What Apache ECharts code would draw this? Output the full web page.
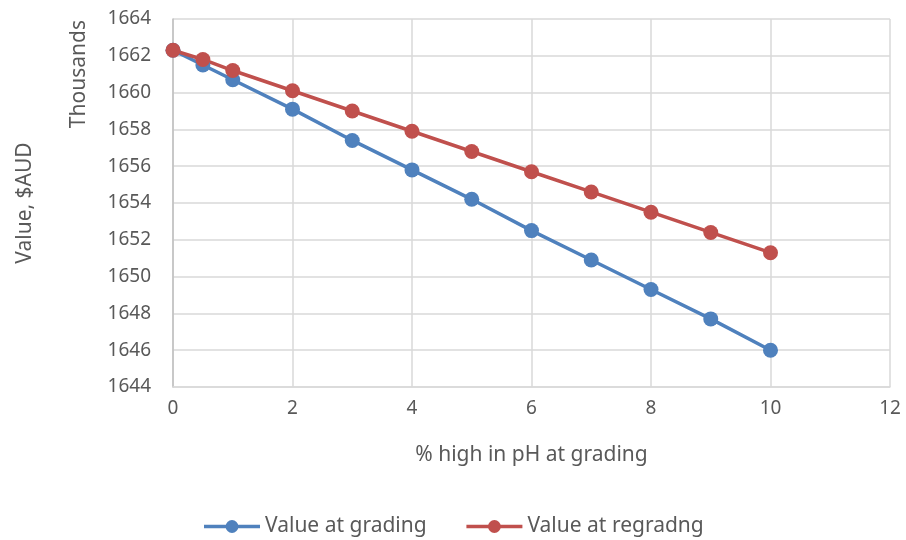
<!DOCTYPE html>
<html><head><meta charset="utf-8">
<script src="https://cdn.jsdelivr.net/npm/echarts@6/dist/echarts.min.js"></script>
<style>html,body{margin:0;padding:0;background:#fff}#c{width:906px;height:540px}</style>
</head><body><div id="c"></div>
<script>
const xValues = [0, 0.5, 1, 2, 3, 4, 5, 6, 7, 8, 9, 10];
const gradingValues = [1662.3, 1661.5, 1660.7, 1659.1, 1657.4, 1655.8, 1654.2, 1652.5, 1650.9, 1649.3, 1647.7, 1646.0];
const regradingValues = [1662.3, 1661.8, 1661.2, 1660.1, 1659.0, 1657.9, 1656.8, 1655.7, 1654.6, 1653.5, 1652.4, 1651.3];
const seriesNames = ['Value at grading', 'Value at regradng'];
const FONT = '"Noto Sans", sans-serif';
const chart = echarts.init(document.getElementById('c'));
chart.setOption({
  animation: false,
  textStyle: {fontFamily: FONT},
  grid: {left: 173, right: 16, top: 19, bottom: 153},
  xAxis: {
    type: 'value', min: 0, max: 12, interval: 2,
    name: '% high in pH at grading', nameLocation: 'middle', nameGap: 58,
    nameTextStyle: {fontSize: 21, color: '#595959', fontFamily: FONT},
    axisLine: {show: true, lineStyle: {color: '#d9d9d9', width: 1.5}},
    axisTick: {show: false},
    axisLabel: {fontSize: 19, color: '#595959', margin: 12},
    splitLine: {show: true, lineStyle: {color: '#d9d9d9', width: 1.5}}
  },
  yAxis: {
    type: 'value', min: 1644, max: 1664, interval: 2,
    name: 'Value, $AUD', nameLocation: 'middle', nameGap: 137,
    nameTextStyle: {fontSize: 21, color: '#595959', fontFamily: FONT},
    axisLine: {show: true, lineStyle: {color: '#bfbfbf', width: 1.5}},
    axisTick: {show: false},
    axisLabel: {fontSize: 19, color: '#595959', margin: 22, formatter: v => String(v)},
    splitLine: {show: true, lineStyle: {color: '#d9d9d9', width: 1.5}}
  },
  graphic: [{
    type: 'text', left: 69, top: 20, rotation: Math.PI / 2,
    style: {text: 'Thousands', fontSize: 21, fill: '#595959', fontFamily: FONT}
  }],
  legend: {
    bottom: -2, left: 'center', itemWidth: 56, itemHeight: 16, itemGap: 38,
    lineStyle: {width: 3.5},
    textStyle: {fontSize: 21, color: '#595959', fontFamily: FONT},
    data: seriesNames
  },
  series: [
    {name: seriesNames[0], type: 'line', data: xValues.map((x, i) => [x, gradingValues[i]]),
     symbol: 'circle', symbolSize: 15, itemStyle: {color: '#4f81bd'}, lineStyle: {width: 3.5, color: '#4f81bd'}},
    {name: seriesNames[1], type: 'line', data: xValues.map((x, i) => [x, regradingValues[i]]),
     symbol: 'circle', symbolSize: 15, itemStyle: {color: '#c0504d'}, lineStyle: {width: 3.5, color: '#c0504d'}}
  ]
});
</script></body></html>
